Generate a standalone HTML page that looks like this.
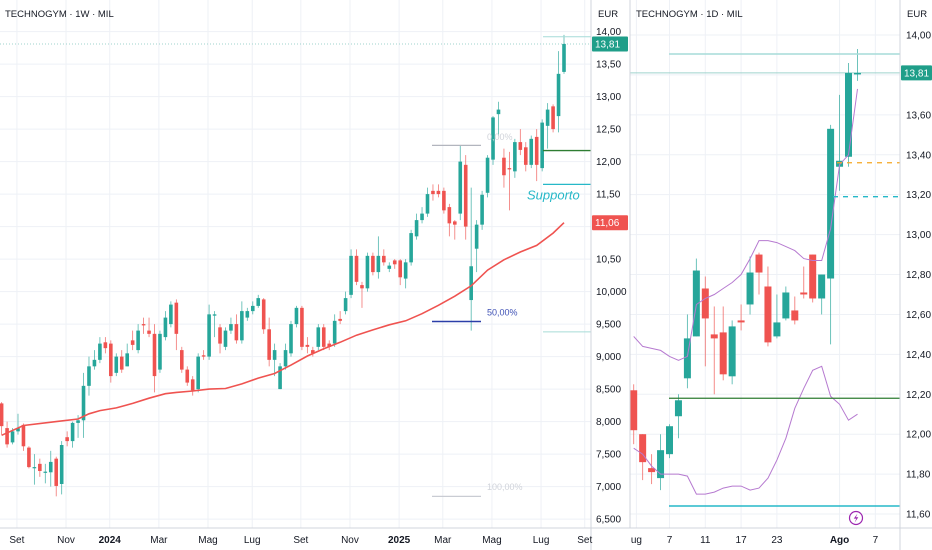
<!DOCTYPE html>
<html><head><meta charset="utf-8"><title>Technogym</title>
<style>
html,body{margin:0;padding:0;background:#fff;}
svg{display:block;font-family:"Liberation Sans",sans-serif;}
</style></head>
<body>
<svg id="chart" width="932" height="550" viewBox="0 0 932 550" xmlns="http://www.w3.org/2000/svg">
<rect x="0" y="0" width="932" height="550" fill="#ffffff"/>
<g id="grid"></g>
<g id="annotBack"></g>
<g id="weekly"></g>
<g id="daily"></g>
<g id="annot"></g>
<g id="axes"></g>
</svg>
<script>
// ---------- weekly (left panel) data ----------
const wOpen = [8.28,7.9,7.68,7.85,7.95,7.6,7.3,7.35,7.23,7.22,
7.43,7.04,7.76,7.7,7.98,8.02,8.55,8.85,8.95,9.22,
9.2,8.75,9.0,8.85,9.25,9.1,9.5,9.4,9.35,8.8,
9.3,9.5,9.83,9.1,8.8,8.65,8.5,9.02,9.0,9.63,
9.45,9.15,9.4,9.5,9.25,9.6,9.7,9.78,9.88,9.42,
8.95,8.5,8.85,9.05,9.5,9.75,9.18,9.1,9.15,9.45,
9.2,9.2,9.58,9.7,9.95,10.55,10.1,10.05,10.55,10.3,
10.55,10.35,10.48,10.48,10.2,10.45,10.85,11.1,11.2,11.55,
11.55,11.55,11.3,11.08,11.2,11.95,9.87,10.66,11.03,11.52,
12.03,12.73,12.06,11.9,11.85,12.3,12.22,11.95,12.38,11.9,
12.55,12.85,12.7,13.38];
const wClose = [7.93,7.65,7.85,7.9,7.62,7.3,7.3,7.24,7.23,7.38,
7.01,7.64,7.7,7.98,8.02,8.55,8.85,8.95,9.2,9.13,
8.7,9.0,8.8,9.05,9.18,9.4,9.48,9.35,8.7,9.35,
9.6,9.8,9.35,8.8,8.6,8.48,9.0,9.0,9.65,9.65,
9.2,9.4,9.5,9.25,9.7,9.7,9.78,9.9,9.42,8.95,
9.1,8.85,9.1,9.5,9.75,9.15,9.15,9.05,9.45,9.15,
9.15,9.55,9.55,9.9,10.55,10.15,10.05,10.55,10.3,10.55,
10.45,10.4,10.42,10.22,10.45,10.9,11.1,11.2,11.5,11.5,
11.5,11.25,11.05,11.03,12.0,11.0,10.39,11.03,11.49,12.06,
12.68,12.8,11.79,11.88,12.3,12.18,11.95,12.35,11.95,12.6,
12.8,12.5,13.35,13.81];
const wHigh = [8.3,8.0,7.9,8.12,7.97,7.62,7.5,7.43,7.35,7.55,
7.46,7.7,7.85,8.0,8.1,8.75,9.0,9.1,9.3,9.3,
9.25,9.05,9.1,9.2,9.4,9.5,9.6,9.6,9.5,9.4,
9.7,9.85,9.88,9.15,8.85,8.7,9.05,9.1,9.8,9.7,
9.5,9.45,9.6,9.65,9.85,9.75,9.85,9.95,9.9,9.6,
9.2,8.9,9.2,9.55,9.78,9.78,9.3,9.15,9.5,9.5,
9.25,9.65,9.7,10.0,10.65,10.65,10.15,10.6,10.6,10.85,
10.65,10.45,10.5,10.5,10.5,10.95,11.2,11.3,11.6,11.65,
11.65,11.6,11.35,11.1,12.25,12.1,11.6,11.1,11.55,12.1,
12.7,12.92,12.2,12.15,12.35,12.5,12.3,12.4,12.5,12.65,
12.9,12.88,13.7,13.95];
const wLow = [7.8,7.6,7.65,7.8,7.55,7.28,7.03,7.15,7.05,7.0,
6.85,6.88,7.62,7.6,7.75,7.75,8.4,8.8,8.9,9.05,
8.6,8.7,8.75,8.85,9.1,9.05,9.35,9.3,8.45,8.75,
9.25,9.45,9.1,8.75,8.55,8.4,8.45,8.95,8.95,9.3,
9.05,9.1,9.35,9.2,9.2,9.55,9.65,9.75,9.35,8.85,
8.7,8.5,8.8,9.0,9.45,9.1,9.05,9.0,9.1,9.1,
9.1,9.15,9.5,9.65,9.9,10.1,9.75,10.0,10.25,10.2,
10.4,10.3,10.35,10.1,10.05,10.4,10.8,11.05,11.15,11.4,
11.45,11.2,10.85,10.8,11.1,10.8,9.4,10.3,10.95,11.45,
11.95,12.4,11.6,11.25,11.75,12.1,11.85,11.9,11.7,11.85,
12.2,12.45,12.45,13.35];
const maIdx = [0,4,10,14,16,18,21,24,27,30,32,35,38,41,44,47,50,53,56,59,62,65,68,71,74,77,80,83,86,89,92,95,98,101,103];
const maVal = [7.79,7.94,8.0,8.04,8.12,8.17,8.21,8.28,8.36,8.43,8.45,8.47,8.5,8.51,8.58,8.67,8.74,8.87,9.01,9.12,9.22,9.33,9.41,9.49,9.55,9.66,9.79,9.93,10.09,10.33,10.49,10.61,10.71,10.9,11.06];
const wTicks = [14,13.5,13,12.5,12,11.5,10.5,10,9.5,9,8.5,8,7.5,7,6.5];
const wTickLabels = ["14,00","13,50","13,00","12,50","12,00","11,50","10,50","10,000","9,500","9,000","8,500","8,000","7,500","7,000","6,500"];
const wDateLabels = ["Set","Nov","2024","Mar","Mag","Lug","Set","Nov","2025","Mar","Mag","Lug","Set"];
const wDateIdx = [2.8,11.8,19.8,28.8,37.8,45.9,54.8,63.8,72.8,80.8,89.8,98.8,106.8];

// ---------- daily (right panel) data ----------
const dOpen = [12.22,12.0,11.83,11.78,11.9,12.09,12.28,12.49,12.73,12.5,12.51,12.29,12.57,12.65,12.9,12.74,12.49,12.58,12.62,12.71,12.9,12.68,12.78,13.34,13.39,13.81];
const dClose = [12.02,11.86,11.81,11.92,12.04,12.17,12.48,12.82,12.58,12.48,12.3,12.54,12.56,12.81,12.81,12.46,12.56,12.71,12.57,12.7,12.68,12.8,13.53,13.37,13.81,13.81];
const dHigh = [12.25,12.0,11.9,12.0,12.05,12.2,12.6,12.88,12.79,12.64,12.64,12.57,12.65,12.89,12.91,12.84,12.7,12.74,12.69,12.84,12.9,12.8,13.55,13.7,13.86,13.93];
const dLow = [11.95,11.77,11.75,11.72,11.88,11.98,12.23,12.49,12.34,12.2,12.27,12.25,12.52,12.6,12.7,12.44,12.48,12.57,12.55,12.68,12.66,12.6,12.45,13.22,13.34,13.77];
const bbUpper = [12.49,12.44,12.43,12.42,12.39,12.37,12.39,12.65,12.68,12.7,12.73,12.76,12.8,12.88,12.97,12.97,12.96,12.94,12.92,12.88,12.87,12.87,13.03,13.35,13.4,13.73];
const bbLower = [11.93,11.9,11.84,11.8,11.8,11.8,11.79,11.7,11.7,11.71,11.73,11.74,11.74,11.72,11.73,11.78,11.87,11.98,12.13,12.23,12.32,12.34,12.19,12.15,12.07,12.1];
const dTicks = [14,13.6,13.4,13.2,13,12.8,12.6,12.4,12.2,12,11.8,11.6];
const dTickLabels = ["14,00","13,60","13,40","13,20","13,00","12,80","12,60","12,40","12,20","12,00","11,80","11,60"];
const dDateLabels = ["ug","7","11","17","23","Ago","7"];
const dDateIdx = [0.3,4,8,12,16,23,27];

// ---------- scales ----------
const NS="http://www.w3.org/2000/svg";
const nW = wClose.length;
const BOTTOM = 528;
function xL(i){ return 564 - (nW-1-i)*5.46; }
function yL(p){ return 31.6 + (14-p)*65.0; }
function xR(i){ return 633.7 + i*8.95; }
function yR(p){ return 35 + (14-p)*199.6; }
const UP="#26a69a", DN="#ef5350";

function mk(tag, attrs, parent){
  const el=document.createElementNS(NS,tag);
  for(const k in attrs) el.setAttribute(k,attrs[k]);
  parent.appendChild(el); return el;
}
const grid=document.getElementById('grid');
const back=document.getElementById('annotBack');
const wk=document.getElementById('weekly');
const dl=document.getElementById('daily');
const an=document.getElementById('annot');
const ax=document.getElementById('axes');

wTicks.concat([11]).forEach(function(t){
  const l=mk('line',{x1:0,x2:591,y1:yL(t),y2:yL(t),stroke:'#eef1f6','stroke-width':1},grid);
  
  
});
wDateIdx.forEach(function(d){
  const l=mk('line',{x1:xL(d),x2:xL(d),y1:0,y2:BOTTOM,stroke:'#eef1f6','stroke-width':1},grid);
  
  
});
dTicks.concat([13.8]).forEach(function(t){
  const l=mk('line',{x1:630,x2:900,y1:yR(t),y2:yR(t),stroke:'#eef1f6','stroke-width':1},grid);
  
  
});
dDateIdx.forEach(function(d){
  const l=mk('line',{x1:xR(d),x2:xR(d),y1:0,y2:BOTTOM,stroke:'#eef1f6','stroke-width':1},grid);
  
  
});

let lp=mk('line',{x1:0,x2:591,y1:yL(13.81),y2:yL(13.81),stroke:'#9fd3cd','stroke-width':1,'stroke-dasharray':'1 2'},back);


lp=mk('line',{x1:630,x2:900,y1:yR(13.81),y2:yR(13.81),stroke:'#9fd3cd','stroke-width':1},back);



for(let i=0;i<nW;i++){
  const o=wOpen[i],c=wClose[i],h=Math.max(wHigh[i],o,c),lo=Math.min(wLow[i],o,c);
  const col=c>=o?UP:DN, x=xL(i);
  const w=mk('line',{x1:x,x2:x,y1:yL(h),y2:yL(lo),stroke:col,'stroke-width':0.8,opacity:0.8},wk);
  
  
  const top=yL(Math.max(o,c)), bh=Math.max(1.2,Math.abs(yL(o)-yL(c)));
  const b=mk('rect',{x:x-1.8,y:top,width:3.6,height:bh,fill:col},wk);
  
  
}
let pts=maIdx.map(function(ix,k){return xL(ix).toFixed(1)+','+yL(maVal[k]).toFixed(1);}).join(' ');
const ma=mk('polyline',{points:pts,fill:'none',stroke:'#ef5350','stroke-width':1.6},wk);



for(let i=0;i<dClose.length;i++){
  const o=dOpen[i],c=dClose[i],h=Math.max(dHigh[i],o,c),lo=Math.min(dLow[i],o,c);
  const col=c>=o?UP:DN, x=xR(i);
  const w=mk('line',{x1:x,x2:x,y1:yR(h),y2:yR(lo),stroke:col,'stroke-width':0.9,opacity:0.75},dl);
  
  
  const top=yR(Math.max(o,c)), bh=Math.max(1.5,Math.abs(yR(o)-yR(c)));
  const b=mk('rect',{x:x-3.5,y:top,width:7,height:bh,fill:col},dl);
  
  
}
pts=bbUpper.map(function(v,i){return xR(i).toFixed(1)+','+yR(v).toFixed(1);}).join(' ');
let bu=mk('polyline',{points:pts,fill:'none',stroke:'#b67ad0','stroke-width':1},dl);


pts=bbLower.map(function(v,i){return xR(i).toFixed(1)+','+yR(v).toFixed(1);}).join(' ');
let bl=mk('polyline',{points:pts,fill:'none',stroke:'#b67ad0','stroke-width':1},dl);



function hline(x1,x2,y,col,sw,dash,name){
  const l=mk('line',{x1:x1,x2:x2,y1:y,y2:y,stroke:col,'stroke-width':sw},an);
  if(dash) l.setAttribute('stroke-dasharray',dash);
  
  
}
function txt(x,y,s,col,size,name,extra){
  const t=mk('text',{x:x,y:y,fill:col,'font-size':size},an);
  if(extra) for(const k in extra) t.setAttribute(k,extra[k]);
  t.textContent=s;
  
  
  return t;
}
hline(432,481,yL(12.25),'#b2b5be',1.2,null,'fib-0-line');
txt(487,yL(12.33),'0,00%','#d0d3da',9,'fib-0-label');
hline(432,481,yL(9.54),'#2a3ea8',1.6,null,'fib-50-line');
txt(487,yL(9.63),'50,00%','#3f51b5',9,'fib-50-label');
hline(432,481,yL(6.85),'#c9ccd3',1.2,null,'fib-100-line');
txt(487,yL(6.95),'100,00%','#d0d3da',9,'fib-100-label');
hline(543,591,yL(13.92),'#a6dcd8',1,null,'resistance-line-weekly');
hline(543,591,yL(12.17),'#2e7d32',1.3,null,'green-level-weekly');
hline(543,591,yL(11.65),'#26b8c8',1.3,null,'support-line-weekly');
hline(543,591,yL(9.38),'#a6dcd8',1,null,'lower-level-weekly');
txt(527,yL(11.42),'Supporto','#26b8c8',13,'support-label',{'font-style':'italic'});
hline(669,900,yR(13.905),'#a6dcd8',1.5,null,'resistance-line-daily');
hline(837,900,yR(13.36),'#f5a623',1.3,'5 5','orange-dashed-level');
hline(833,900,yR(13.19),'#26b8c8',1.3,'5 5','cyan-dashed-level');
hline(669,900,yR(12.18),'#2e7d32',1.3,null,'green-level-daily');
hline(669,900,yR(11.64),'#26b8c8',1.5,null,'support-line-daily');
const ic=mk('g',{},an);


mk('circle',{cx:856,cy:518,r:6.5,fill:'#fff',stroke:'#9c27b0','stroke-width':1.2},ic);
mk('path',{d:'M857.5 513.5 L853.8 518.6 L856.3 518.6 L854.6 522.6 L858.3 517.3 L855.9 517.3 Z',fill:'#9c27b0'},ic);

function axLine(x1,y1,x2,y2,name){
  const l=mk('line',{x1:x1,y1:y1,x2:x2,y2:y2,stroke:'#d1d4dc','stroke-width':1},ax);
  
  
}
axLine(591,0,591,550,'left-price-axis-border');
axLine(630,0,630,BOTTOM,'panel-separator');
axLine(900,0,900,550,'right-price-axis-border');
axLine(0,BOTTOM,932,BOTTOM,'time-axis-border');

function axText(x,y,s,name,opts){
  const t=mk('text',{x:x,y:y,fill:'#131722','font-size':10},ax);
  if(opts) for(const k in opts) t.setAttribute(k,opts[k]);
  t.textContent=s;
  
  
}
wTicks.forEach(function(t,k){ axText(596,yL(t)+3.5,wTickLabels[k],'y-tick-left'); });
dTicks.forEach(function(t,k){ axText(906,yR(t)+3.5,dTickLabels[k],'y-tick-right'); });
wDateLabels.forEach(function(s,k){
  const bold=(s==="2024"||s==="2025");
  axText(xL(wDateIdx[k]),543,s,'x-tick-left',{'text-anchor':'middle','font-weight':bold?'bold':'normal'});
});
dDateLabels.forEach(function(s,k){
  axText(xR(dDateIdx[k]),543,s,'x-tick-right',{'text-anchor':'middle','font-weight':s==='Ago'?'bold':'normal'});
});
axText(5,17,'TECHNOGYM · 1W · MIL','title-weekly',{'font-size':9.5});
axText(636,17,'TECHNOGYM · 1D · MIL','title-daily',{'font-size':9.5});
axText(598,17,'EUR','currency-left',{'font-size':9.5});
axText(907,17,'EUR','currency-right',{'font-size':9.5});

function pbox(x,y,w,col,s,name){
  const g=mk('g',{},ax);
  
  
  mk('rect',{x:x,y:y-7.5,width:w,height:15,fill:col,rx:1},g);
  const t=mk('text',{x:x+3,y:y+3.5,fill:'#fff','font-size':10},g);
  t.textContent=s;
}
pbox(592,yL(13.81),36,'#1f9e89','13,81','last-price-label-weekly');
pbox(592,yL(11.06),36,'#ef5350','11,06','ma-price-label');
pbox(901,yR(13.81),31,'#1f9e89','13,81','last-price-label-daily');
</script>
</body></html>
